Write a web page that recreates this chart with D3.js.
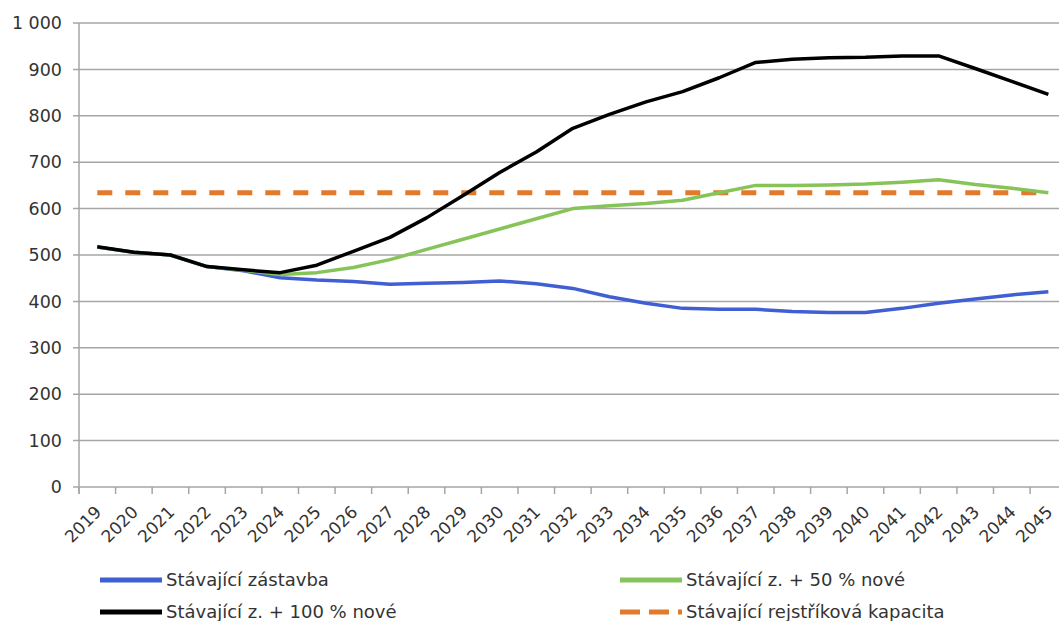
<!DOCTYPE html>
<html>
<head>
<meta charset="utf-8">
<script src="https://cdn.jsdelivr.net/npm/d3@7"></script>
<style>
  body { margin: 0; background: #fff; }
  svg text { font-family: "DejaVu Sans", Verdana, sans-serif; fill: #333; }
</style>
</head>
<body>
<div id="chart"></div>
<script>
const years = d3.range(2019, 2046).map(String);
const existing = [517, 506, 500, 475, 466, 451, 446, 443, 437, 439, 441, 444, 438, 428, 410, 396, 385, 383, 383, 378, 376, 376, 385, 396, 405, 414, 421];
const plus50 = [517, 506, 500, 475, 467, 458, 462, 473, 490, 512, 534, 556, 578, 600, 606, 611, 618, 634, 650, 650, 651, 653, 657, 662, 652, 644, 634];
const plus100 = [518, 506, 500, 475, 468, 462, 478, 508, 538, 580, 628, 678, 722, 773, 803, 830, 852, 882, 915, 922, 925, 926, 929, 929, 902, 874, 846];
const capacity = years.map(() => 634);
const yTicks = [0, 100, 200, 300, 400, 500, 600, 700, 800, 900, 1000];

const width = 1059;
const height = 621;
const svg = d3.select("#chart")
              .append("svg")
              .attr("width", width)
              .attr("height", height);

const plotLeft = 79, plotTop = 23, plotBottom = 487;
const step = 36.58;

const x = d3.scaleBand()
  .domain(years)
  .range([plotLeft, plotLeft + step * years.length])
  .padding(0);
const y = d3.scaleLinear().domain([0, 1000]).range([plotBottom, plotTop]);
const cx = d => x(d) + x.bandwidth() / 2;

// grid lines
svg.append("g")
   .selectAll("line")
   .data(yTicks)
   .enter()
   .append("line")
   .attr("x1", plotLeft - 6)
   .attr("x2", width)
   .attr("y1", d => y(d))
   .attr("y2", d => y(d))
   .attr("stroke", "#a6a6a6")
   .attr("stroke-width", 1.5);

// y axis line
svg.append("line")
   .attr("x1", plotLeft).attr("x2", plotLeft)
   .attr("y1", plotTop).attr("y2", plotBottom + 7)
   .attr("stroke", "#a6a6a6")
   .attr("stroke-width", 1.5);

// x ticks at band boundaries
svg.append("g")
   .selectAll("line")
   .data(years)
   .enter()
   .append("line")
   .attr("x1", d => x(d)).attr("x2", d => x(d))
   .attr("y1", plotBottom).attr("y2", plotBottom + 7)
   .attr("stroke", "#a6a6a6")
   .attr("stroke-width", 1.5);

// y labels
const fmt = d => d >= 1000 ? d3.format(",")(d).replace(",", " ") : String(d);
svg.append("g")
   .selectAll("text")
   .data(yTicks)
   .enter()
   .append("text")
   .attr("x", 62)
   .attr("y", d => y(d))
   .attr("dy", "0.35em")
   .attr("text-anchor", "end")
   .style("font-size", "17.5px")
   .text(fmt);

// x labels
svg.append("g")
   .selectAll("text")
   .data(years)
   .enter()
   .append("text")
   .attr("transform", d => `translate(${cx(d) + 1},${plotBottom + 22}) rotate(-45)`)
   .attr("text-anchor", "end")
   .attr("dy", "0.35em")
   .style("font-size", "17px")
   .text(d => d);

const line = d3.line()
  .x((d, i) => cx(years[i]))
  .y(d => y(d));

const series = [
  { name: "Stávající zástavba", values: existing, color: "#3f5fd3", width: 3.5, dash: null },
  { name: "Stávající z. + 50 % nové", values: plus50, color: "#86c45a", width: 3.5, dash: null },
  { name: "Stávající z. + 100 % nové", values: plus100, color: "#000", width: 3.5, dash: null },
  { name: "Stávající rejstříková kapacita", values: capacity, color: "#e27a2e", width: 5, dash: "15,13" }
];

svg.append("g")
   .selectAll("path")
   .data([series[3], series[0], series[1], series[2]])
   .enter()
   .append("path")
   .attr("d", d => line(d.values))
   .attr("fill", "none")
   .attr("stroke", d => d.color)
   .attr("stroke-width", d => d.width)
   .attr("stroke-dasharray", d => d.dash)
   .attr("stroke-linejoin", "round");

// legend
const legendPos = [
  { x: 100, y: 580 },
  { x: 620, y: 580 },
  { x: 100, y: 612 },
  { x: 620, y: 612 }
];
const legend = svg.append("g");
series.forEach((s, i) => {
  const p = legendPos[i];
  legend.append("line")
        .attr("x1", p.x).attr("x2", p.x + 62)
        .attr("y1", p.y).attr("y2", p.y)
        .attr("stroke", s.color)
        .attr("stroke-width", 5)
        .attr("stroke-dasharray", s.dash ? "20,9" : null);
  legend.append("text")
        .attr("x", p.x + 66)
        .attr("y", p.y)
        .attr("dy", "0.35em")
        .style("font-size", "18px")
        .text(s.name);
});
</script>
</body>
</html>
